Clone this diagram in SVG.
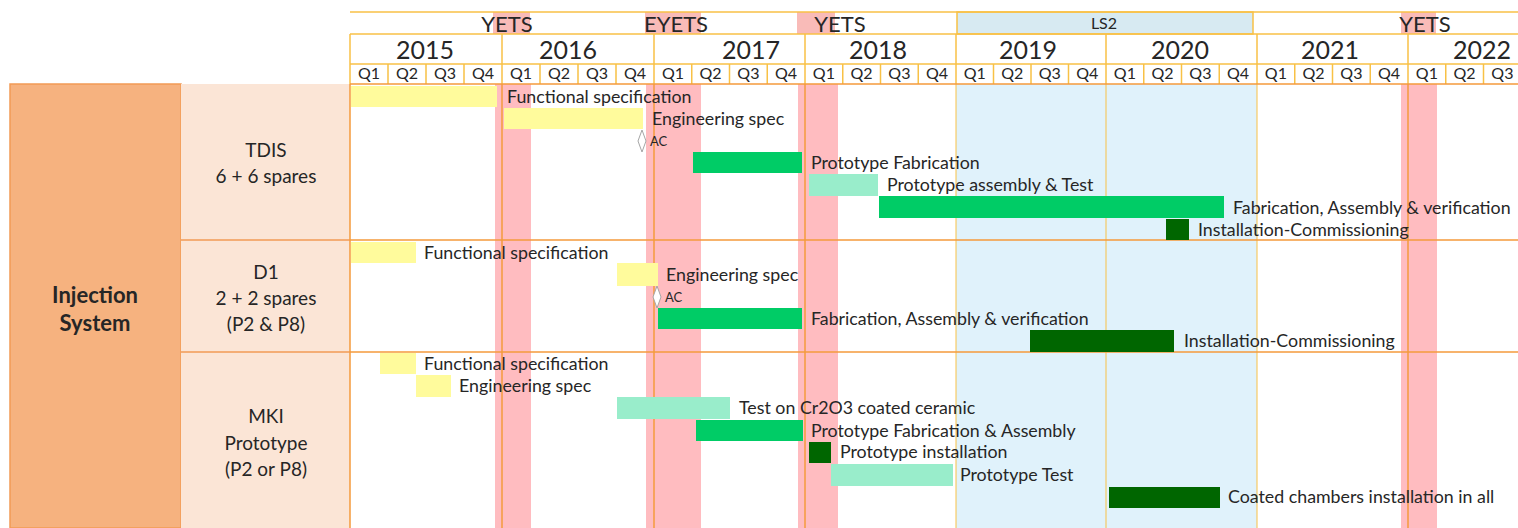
<svg xmlns="http://www.w3.org/2000/svg" width="1518" height="528" viewBox="0 0 1518 528">
  <style>
    text { font-family: Lato, "Liberation Sans", sans-serif; fill: #262626; }
    .lbl { font-size: 17.8px; }
    .ac { font-size: 13px; }
    .qtr { font-size: 16px; text-anchor: middle; }
    .yr { font-size: 25px; text-anchor: middle; }
    .per { font-size: 22px; text-anchor: middle; }
    .side { font-size: 19px; text-anchor: middle; }
    .main { font-size: 22px; font-weight: bold; text-anchor: middle; }
    .hl { stroke: #F8C146; stroke-width: 1.5; fill: none; }
    .gl { stroke: #F59B3D; stroke-width: 1.5; fill: none; }
    .gl2 { stroke: #F8C146; stroke-width: 1; fill: none; }
    .yel { fill: #FFFB9C; }
    .grn { fill: #00CC66; }
    .mint { fill: #99EDCB; }
    .dk { fill: #006600; }
    .pink { fill: #FFBCC0; }
    .ms { fill: #FFFFFF; stroke: #A6A6A6; stroke-width: 1; }
  </style>

  <rect x="0" y="0" width="1518" height="528" fill="#FFFFFF"/>

  <!-- header: shutdown periods -->
  <g id="header-periods">
    <rect x="493" y="12" width="37" height="22" fill="#F9BBB8"/>
    <rect x="645" y="12" width="56" height="22" fill="#F9BBB8"/>
    <rect x="797" y="12" width="38" height="22" fill="#F9BBB8"/>
    <rect x="1401" y="12" width="35" height="22" fill="#F9BBB8"/>
    <rect x="957" y="12" width="296" height="22" fill="#D7EAF2" stroke="#F8C146" stroke-width="1.5"/>
    <line class="hl" x1="350" y1="12" x2="1518" y2="12"/>
    <line class="hl" x1="350" y1="34" x2="1518" y2="34"/>
    <text class="per" x="507" y="32">YETS</text>
    <text class="per" x="676" y="32">EYETS</text>
    <text class="per" x="840" y="32">YETS</text>
    <text x="1104" y="29" font-size="16" text-anchor="middle" fill="#404040">LS2</text>
    <text class="per" x="1425" y="32">YETS</text>
  </g>

  <!-- header: years -->
  <g id="header-years">
    <line class="hl" x1="350" y1="64" x2="1518" y2="64"/>
    <line class="hl" x1="350" y1="34" x2="350" y2="84"/>
    <line class="hl" x1="502" y1="34" x2="502" y2="84"/>
    <line class="hl" x1="654" y1="34" x2="654" y2="84"/>
    <line class="hl" x1="805" y1="34" x2="805" y2="84"/>
    <line class="hl" x1="956" y1="34" x2="956" y2="84"/>
    <line class="hl" x1="1106" y1="34" x2="1106" y2="84"/>
    <line class="hl" x1="1257" y1="34" x2="1257" y2="84"/>
    <line class="hl" x1="1408" y1="34" x2="1408" y2="84"/>
    <text class="yr" x="425" y="59">2015</text>
    <text class="yr" x="568" y="59">2016</text>
    <text class="yr" x="751" y="59">2017</text>
    <text class="yr" x="878" y="59">2018</text>
    <text class="yr" x="1028" y="59">2019</text>
    <text class="yr" x="1180" y="59">2020</text>
    <text class="yr" x="1330" y="59">2021</text>
    <text class="yr" x="1482" y="59">2022</text>
  </g>

  <!-- header: quarters -->
  <g id="header-quarters">
    <path class="hl" d="M388 64V84M426 64V84M464 64V84M540 64V84M578 64V84M616 64V84M691.75 64V84M729.5 64V84M767.25 64V84M842.75 64V84M880.5 64V84M918.25 64V84M993.5 64V84M1031 64V84M1068.5 64V84M1143.75 64V84M1181.5 64V84M1219.25 64V84M1294.75 64V84M1332.5 64V84M1370.25 64V84M1445.75 64V84M1483.5 64V84"/>
    <text class="qtr" x="369" y="79">Q1</text><text class="qtr" x="407" y="79">Q2</text><text class="qtr" x="445" y="79">Q3</text><text class="qtr" x="483" y="79">Q4</text>
    <text class="qtr" x="521" y="79">Q1</text><text class="qtr" x="559" y="79">Q2</text><text class="qtr" x="597" y="79">Q3</text><text class="qtr" x="635" y="79">Q4</text>
    <text class="qtr" x="673" y="79">Q1</text><text class="qtr" x="710.6" y="79">Q2</text><text class="qtr" x="748.4" y="79">Q3</text><text class="qtr" x="786.1" y="79">Q4</text>
    <text class="qtr" x="823.9" y="79">Q1</text><text class="qtr" x="861.6" y="79">Q2</text><text class="qtr" x="899.4" y="79">Q3</text><text class="qtr" x="937.1" y="79">Q4</text>
    <text class="qtr" x="974.8" y="79">Q1</text><text class="qtr" x="1012.3" y="79">Q2</text><text class="qtr" x="1049.8" y="79">Q3</text><text class="qtr" x="1087.3" y="79">Q4</text>
    <text class="qtr" x="1124.9" y="79">Q1</text><text class="qtr" x="1162.6" y="79">Q2</text><text class="qtr" x="1200.4" y="79">Q3</text><text class="qtr" x="1238.1" y="79">Q4</text>
    <text class="qtr" x="1275.9" y="79">Q1</text><text class="qtr" x="1313.6" y="79">Q2</text><text class="qtr" x="1351.4" y="79">Q3</text><text class="qtr" x="1389.1" y="79">Q4</text>
    <text class="qtr" x="1426.9" y="79">Q1</text><text class="qtr" x="1464.6" y="79">Q2</text><text class="qtr" x="1502.4" y="79">Q3</text>
  </g>

  <!-- left-hand labels -->
  <g id="system">
    <rect x="10" y="84" width="171" height="444" fill="#F6B27F" stroke="#F29B55" stroke-width="1.5"/>
    <text class="main" x="95" y="303">Injection</text>
    <text class="main" x="95" y="331">System</text>
  </g>
  <g id="row-tdis-label">
    <rect x="181" y="84" width="169" height="156" fill="#FBE5D6"/>
    <text class="side" x="266" y="157">TDIS</text>
    <text class="side" x="266" y="183">6 + 6 spares</text>
  </g>
  <g id="row-d1-label">
    <rect x="181" y="240" width="169" height="112" fill="#FBE5D6"/>
    <text class="side" x="266" y="279">D1</text>
    <text class="side" x="266" y="305">2 + 2 spares</text>
    <text class="side" x="266" y="331">(P2 &amp; P8)</text>
  </g>
  <g id="row-mki-label">
    <rect x="181" y="352" width="169" height="176" fill="#FBE5D6"/>
    <text class="side" x="266" y="423">MKI</text>
    <text class="side" x="266" y="449.5">Prototype</text>
    <text class="side" x="266" y="476">(P2 or P8)</text>
  </g>
  <path d="M181 240H350M181 352H350" stroke="#F29B55" stroke-width="1.5"/>

  <!-- timeline background -->
  <g id="timeline-grid">
    <rect x="956" y="84" width="301" height="444" fill="#E0F2FB"/>
    <rect class="pink" x="495" y="84" width="36" height="444"/>
    <rect class="pink" x="646" y="84" width="55" height="444"/>
    <rect class="pink" x="798" y="84" width="40" height="444"/>
    <rect class="pink" x="1401" y="84" width="36" height="444"/>
    <path class="gl2" d="M956 84V528M1106 84V528M1257 84V528"/>
    <path class="gl" d="M350 84V528M502 84V528M654 84V528M805 84V528M1408 84V528"/>
    <path class="gl" d="M350 84H1518M350 240H1518M350 352H1518"/>
  </g>

  <!-- TDIS tasks -->
  <g id="tasks-tdis">
    <rect class="yel" x="351" y="86" width="146" height="21"/>
    <text class="lbl" x="507" y="103">Functional specification</text>
    <rect class="yel" x="504" y="108" width="139" height="21"/>
    <text class="lbl" x="652" y="125">Engineering spec</text>
    <polygon class="ms" points="642,130 646,141 642,152 638,141"/>
    <text class="ac" x="650" y="146">AC</text>
    <rect class="grn" x="693" y="152" width="109" height="21"/>
    <text class="lbl" x="811" y="169">Prototype Fabrication</text>
    <rect class="mint" x="809" y="174" width="69" height="22"/>
    <text class="lbl" x="887" y="191">Prototype assembly &amp; Test</text>
    <rect class="grn" x="879" y="196" width="345" height="22"/>
    <text class="lbl" x="1233" y="214">Fabrication, Assembly &amp; verification</text>
    <rect class="dk" x="1166" y="219" width="23" height="21"/>
    <text class="lbl" x="1198" y="236">Installation-Commissioning</text>
  </g>

  <!-- D1 tasks -->
  <g id="tasks-d1">
    <rect class="yel" x="351" y="242" width="65" height="21"/>
    <text class="lbl" x="424" y="259">Functional specification</text>
    <rect class="yel" x="617" y="263" width="41" height="23"/>
    <text class="lbl" x="666" y="281">Engineering spec</text>
    <polygon class="ms" points="657,286 661,297 657,308 653,297"/>
    <text class="ac" x="665" y="302">AC</text>
    <rect class="grn" x="658" y="308" width="144" height="21"/>
    <text class="lbl" x="811" y="325">Fabrication, Assembly &amp; verification</text>
    <rect class="dk" x="1030" y="330" width="144" height="22"/>
    <text class="lbl" x="1184" y="347">Installation-Commissioning</text>
  </g>

  <!-- MKI tasks -->
  <g id="tasks-mki">
    <rect class="yel" x="380" y="353" width="36" height="21"/>
    <text class="lbl" x="424" y="370">Functional specification</text>
    <rect class="yel" x="416" y="375" width="35" height="22"/>
    <text class="lbl" x="459" y="392">Engineering spec</text>
    <rect class="mint" x="617" y="397" width="113" height="22"/>
    <text class="lbl" x="739" y="414">Test on Cr2O3 coated ceramic</text>
    <rect class="grn" x="696" y="420" width="107" height="21"/>
    <text class="lbl" x="811" y="437">Prototype Fabrication &amp; Assembly</text>
    <rect class="dk" x="809" y="442" width="22" height="21"/>
    <text class="lbl" x="840" y="458">Prototype installation</text>
    <rect class="mint" x="831" y="464" width="122" height="22"/>
    <text class="lbl" x="960" y="481">Prototype Test</text>
    <rect class="dk" x="1109" y="487" width="111" height="21"/>
    <text class="lbl" x="1228" y="503">Coated chambers installation in all</text>
  </g>
</svg>
